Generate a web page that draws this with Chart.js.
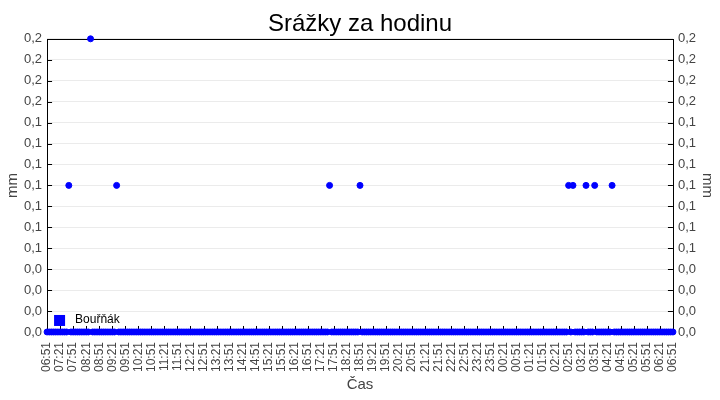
<!DOCTYPE html>
<html>
<head>
<meta charset="utf-8">
<script src="https://cdn.jsdelivr.net/npm/chart.js@4"></script>
<style>
  html, body { margin: 0; padding: 0; background: #fff; }
  #wrap { width: 720px; height: 400px; }
</style>
</head>
<body>
<div id="wrap"><canvas id="rainChart"></canvas></div>
<script>
// 30 min tick labels, 06:51 -> 06:51 next day
const xTickLabels = [
  '06:51','07:21','07:51','08:21','08:51','09:21','09:51','10:21','10:51','11:21',
  '11:51','12:21','12:51','13:21','13:51','14:21','14:51','15:21','15:51','16:21',
  '16:51','17:21','17:51','18:21','18:51','19:21','19:51','20:21','20:51','21:21',
  '21:51','22:21','22:51','23:21','23:51','00:21','00:51','01:21','01:51','02:21',
  '02:51','03:21','03:51','04:21','04:51','05:21','05:51','06:21','06:51'
];

// one reading every 5 minutes (mm), one row = one hour from 06:51
const stepMinutes = 5;
const rain = [
  0, 0, 0, 0, 0, 0, 0, 0, 0, 0, 0.1, 0,       // 06:51
  0, 0, 0, 0, 0, 0, 0, 0, 0.2, 0, 0, 0,       // 07:51
  0, 0, 0, 0, 0, 0, 0, 0, 0.1, 0, 0, 0,       // 08:51
  0, 0, 0, 0, 0, 0, 0, 0, 0, 0, 0, 0,         // 09:51
  0, 0, 0, 0, 0, 0, 0, 0, 0, 0, 0, 0,         // 10:51
  0, 0, 0, 0, 0, 0, 0, 0, 0, 0, 0, 0,         // 11:51
  0, 0, 0, 0, 0, 0, 0, 0, 0, 0, 0, 0,         // 12:51
  0, 0, 0, 0, 0, 0, 0, 0, 0, 0, 0, 0,         // 13:51
  0, 0, 0, 0, 0, 0, 0, 0, 0, 0, 0, 0,         // 14:51
  0, 0, 0, 0, 0, 0, 0, 0, 0, 0, 0, 0,         // 15:51
  0, 0, 0, 0, 0, 0, 0, 0, 0, 0, 0.1, 0,       // 16:51
  0, 0, 0, 0, 0, 0, 0, 0, 0, 0, 0, 0,         // 17:51
  0.1, 0, 0, 0, 0, 0, 0, 0, 0, 0, 0, 0,       // 18:51
  0, 0, 0, 0, 0, 0, 0, 0, 0, 0, 0, 0,         // 19:51
  0, 0, 0, 0, 0, 0, 0, 0, 0, 0, 0, 0,         // 20:51
  0, 0, 0, 0, 0, 0, 0, 0, 0, 0, 0, 0,         // 21:51
  0, 0, 0, 0, 0, 0, 0, 0, 0, 0, 0, 0,         // 22:51
  0, 0, 0, 0, 0, 0, 0, 0, 0, 0, 0, 0,         // 23:51
  0, 0, 0, 0, 0, 0, 0, 0, 0, 0, 0, 0,         // 00:51
  0, 0, 0, 0, 0, 0, 0, 0, 0, 0, 0, 0,         // 01:51
  0.1, 0, 0.1, 0, 0, 0, 0, 0, 0.1, 0, 0, 0,   // 02:51
  0.1, 0, 0, 0, 0, 0, 0, 0, 0.1, 0, 0, 0,     // 03:51
  0, 0, 0, 0, 0, 0, 0, 0, 0, 0, 0, 0,         // 04:51
  0, 0, 0, 0, 0, 0, 0, 0, 0, 0, 0, 0,         // 05:51
  0                                           // 06:51
];

const seriesName = 'Bouřňák';
const font = "'Liberation Sans', Arial, sans-serif";

const fmtMm = (v) => Number(v).toFixed(1).replace('.', ',');

// ticks drawn inside the frame, plus the frame itself
const frameTicks = {
  id: 'frameTicks',
  beforeDatasetsDraw(chart) {
    const { ctx, chartArea: a, scales } = chart;
    ctx.save();
    ctx.strokeStyle = '#000';
    ctx.lineWidth = 1;
    ctx.beginPath();
    scales.y.ticks.forEach((t, i) => {
      const y = Math.round(scales.y.getPixelForTick(i)) + 0.5;
      ctx.moveTo(a.left, y); ctx.lineTo(a.left + 5, y);
      ctx.moveTo(a.right, y); ctx.lineTo(a.right - 5, y);
    });
    scales.x.ticks.forEach((t, i) => {
      const x = Math.round(scales.x.getPixelForTick(i)) + 0.5;
      ctx.moveTo(x, a.bottom); ctx.lineTo(x, a.bottom - 6);
    });
    ctx.stroke();
    ctx.strokeRect(Math.round(a.left) + 0.5, Math.round(a.top) + 0.5,
      Math.round(a.right - a.left), Math.round(a.bottom - a.top));
    ctx.restore();
  }
};

// legend box sitting inside the plot, bottom left
const innerLegend = {
  id: 'innerLegend',
  afterDraw(chart) {
    const { ctx, chartArea: a } = chart;
    const ds = chart.data.datasets[0];
    ctx.save();
    ctx.fillStyle = ds.backgroundColor;
    ctx.fillRect(a.left + 7, a.bottom - 17, 11, 11);
    ctx.fillStyle = '#000';
    ctx.font = '12px ' + font;
    ctx.textBaseline = 'middle';
    ctx.fillText(ds.label, a.left + 28, a.bottom - 12);
    ctx.restore();
  }
};

const yAxis = (position) => ({
  type: 'linear',
  position: position,
  min: 0,
  max: 0.2,
  border: { display: false },
  grid: { display: position === 'left', color: '#ebebeb', drawTicks: false },
  ticks: {
    count: 15,
    padding: 5,
    color: '#444',
    font: { family: font, size: 13 },
    callback: (v) => fmtMm(v)
  },
  title: {
    display: true, text: 'mm', color: '#444',
    font: { family: font, size: 15, lineHeight: 0.8 }, padding: 0
  }
});

new Chart(document.getElementById('rainChart'), {
  type: 'scatter',
  data: {
    datasets: [{
      label: seriesName,
      data: rain.map((v, i) => ({ x: i * stepMinutes, y: v })),
      backgroundColor: '#0000ff',
      borderColor: '#0000ff',
      pointRadius: 3,
      pointHoverRadius: 3,
      borderWidth: 1,
      showLine: false,
      clip: false
    }]
  },
  options: {
    responsive: true,
    maintainAspectRatio: false,
    animation: false,
    layout: { padding: { left: 7, right: 7, top: 6, bottom: 4 } },
    plugins: {
      legend: { display: false },
      tooltip: { enabled: false },
      title: {
        display: true,
        text: 'Srážky za hodinu',
        color: '#000',
        font: { family: font, size: 24, weight: 'normal' },
        padding: { top: 4, bottom: 0 }
      }
    },
    scales: {
      x: {
        type: 'linear',
        min: 0,
        max: (xTickLabels.length - 1) * 30,
        border: { display: false },
        grid: { display: false },
        ticks: {
          stepSize: 30,
          autoSkip: false,
          maxRotation: 90,
          minRotation: 90,
          padding: 2,
          color: '#444',
          font: { family: font, size: 12 },
          callback: (v) => xTickLabels[Math.round(v / 30)]
        },
        title: { display: true, text: 'Čas', color: '#444', font: { family: font, size: 15 }, padding: 2 }
      },
      y: yAxis('left'),
      y2: yAxis('right')
    }
  },
  plugins: [frameTicks, innerLegend]
});
</script>
</body>
</html>
